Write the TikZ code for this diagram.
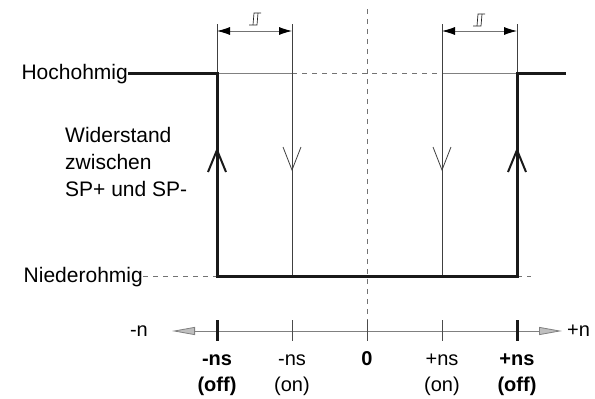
\documentclass[tikz,border=0pt]{standalone}
\usepackage{fontspec}
\setmainfont{Liberation Sans}
\usetikzlibrary{arrows.meta}
\begin{document}
\begin{tikzpicture}[x=1pt,y=-1pt,
  lbl/.style={font=\fontsize{21}{25}\selectfont, inner sep=0pt},
  albl/.style={font=\fontsize{20}{24}\selectfont, inner sep=0pt},
  blbl/.style={font=\fontsize{20}{24}\selectfont\bfseries, inner sep=0pt},
  heavy/.style={line width=3pt, black!90},
  thin line/.style={line width=0.8pt, black!75},
  grayline/.style={line width=0.8pt, black!50},
  dashline/.style={line width=0.8pt, black!55, dash pattern=on 5pt off 5pt},
  chevthick/.style={line width=2pt, black!90},
  chevthin/.style={line width=0.8pt, black!75},
  dimarrow/.style={line width=0.8pt, black!55, {Latex[length=13pt,width=8pt,black]}-{Latex[length=13pt,width=8pt,black]}},
  axisline/.style={line width=0.8pt, black!50, {Triangle[length=23pt,width=8pt,fill=black!25]}-{Triangle[length=23pt,width=8pt,fill=black!25]}},
  hyst/.style={line width=0.7pt, black!85},
  tickthick/.style={line width=3pt, black!90},
  tickthin/.style={line width=0.8pt, black!70}
]
\useasboundingbox (0,0) rectangle (595,399);

% key coordinates
\coordinate (hl) at (217,73);
\coordinate (h1) at (292,73);
\coordinate (h2) at (442,73);
\coordinate (hr) at (517,73);
\coordinate (hend) at (566,73);
\coordinate (ll) at (217,276);
\coordinate (l1) at (292,276);
\coordinate (l2) at (442,276);
\coordinate (lr) at (517,276);
\coordinate (lend) at (531,276);
\coordinate (tl) at (217,24);
\coordinate (t1) at (292,24);
\coordinate (t2) at (442,24);
\coordinate (tr) at (517,24);
\coordinate (ctop) at (367,9);
\coordinate (cbot) at (367,322);

% labels left
\node[lbl, anchor=base east] (hoch) at (128,79) {Hochohmig};
\node[lbl, anchor=base east] (nieder) at (143,282) {Niederohmig};
\node[lbl, anchor=base west] (w1) at (65,142) {Widerstand};
\node[lbl, anchor=base west] (w2) at (65,169) {zwischen};
\node[lbl, anchor=base west] (w3) at (65,196) {SP+ und SP-};

% thin horizontals
\draw[grayline] (hl) -- (h1);
\draw[dashline] (h1) -- (h2);
\draw[grayline] (h2) -- (hr);
\draw[dashline] (nieder.east |- ll) -- (ll);
\draw[dashline] (lr) -- (lend);

% verticals
\draw[thin line] (tl) -- (hl);
\draw[thin line] (t1) -- (l1);
\draw[thin line] (t2) -- (l2);
\draw[thin line] (tr) -- (hr);
\draw[dashline] (ctop) -- (cbot);

% heavy characteristic
\draw[heavy, line join=miter] (hoch.east |- hl) -- (hl) -- (ll) -- (lr) -- (hr) -- (hend);

% chevrons
\draw[chevthick] (208,172) -- (217,150) -- (226,172);
\draw[chevthick] (508,172) -- (517,150) -- (526,172);
\draw[chevthin] (283,147) -- (292,170) -- (301,147);
\draw[chevthin] (433,147) -- (442,170) -- (451,147);

% dimension arrows
\coordinate (da) at (217,31);
\coordinate (db) at (292,31);
\coordinate (dc) at (442,31);
\coordinate (dd) at (517,31);
\draw[dimarrow] (da) -- (db);
\draw[dimarrow] (dc) -- (dd);

% hysteresis symbols
\foreach \cx/\cy in {255/19, 479/20} {
  \draw[hyst] (\cx-6,\cy+6) -- (\cx+2,\cy+6) -- (\cx+3,\cy-6);
  \draw[hyst] (\cx-2,\cy+6) -- (\cx-1,\cy-6) -- (\cx+6,\cy-6);
}

% axis
\coordinate (axl) at (172,331);
\coordinate (axr) at (562,331);
\draw[axisline] (axl) -- (axr);
\node[albl, anchor=east] (mn) at (148,331) {-n};
\node[albl, anchor=west] (pn) at (567,331) {+n};

% ticks
\draw[tickthick] (217,320) -- (217,341);
\draw[tickthick] (517,320) -- (517,341);
\draw[tickthin] (292,320) -- (292,341);
\draw[tickthin] (367,320) -- (367,341);
\draw[tickthin] (442,320) -- (442,341);

% axis labels
\node[blbl, anchor=base] (a1) at (217,365) {-ns};
\node[blbl, anchor=base] (a1b) at (217,391) {(off)};
\node[albl, anchor=base] (a2) at (292,365) {-ns};
\node[albl, anchor=base] (a2b) at (292,391) {(on)};
\node[blbl, anchor=base] (a3) at (367,365) {0};
\node[albl, anchor=base] (a4) at (442,365) {+ns};
\node[albl, anchor=base] (a4b) at (442,391) {(on)};
\node[blbl, anchor=base] (a5) at (517,365) {+ns};
\node[blbl, anchor=base] (a5b) at (517,391) {(off)};
\end{tikzpicture}
\end{document}
